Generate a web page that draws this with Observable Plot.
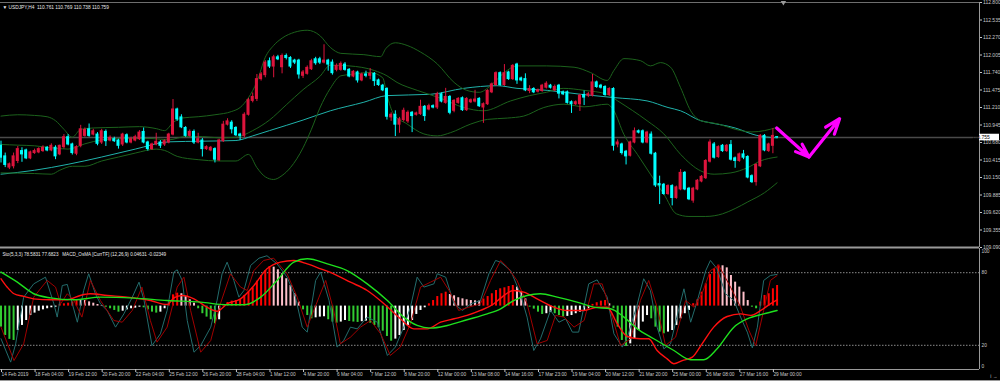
<!DOCTYPE html>
<html>
<head>
<meta charset="utf-8">
<script src="https://cdn.jsdelivr.net/npm/d3@7"></script>
<script src="https://cdn.jsdelivr.net/npm/@observablehq/plot@0.6"></script>
<style>
  html, body { margin: 0; padding: 0; background: #000; overflow: hidden; }
  #chart { width: 1000px; height: 381px; background: #000; position: relative; }
  #chart svg { display: block; overflow: visible; }
  #main { position: relative; z-index: 2; }
  #lower { border-bottom: 1px solid #9a9a9a; }
</style>
</head>
<body>
<div id="chart"></div>
<script>
// ---------- DATA (USDJPY, H4) ----------
const open = [
110.63,110.47,110.30,110.32,110.40,110.55,110.56,110.44,110.52,110.53,
110.55,110.60,110.56,110.60,110.50,110.61,110.76,110.65,110.51,110.63,
110.78,110.88,110.80,110.80,110.68,110.84,110.71,110.73,110.71,110.65,
110.79,110.68,110.71,110.73,110.84,110.68,110.58,110.65,110.68,110.65,
110.68,110.80,111.18,111.06,110.90,110.78,110.84,110.68,110.71,110.58,
110.56,110.58,110.41,110.70,110.95,110.98,110.90,110.80,110.78,111.10,
111.31,111.34,111.64,111.70,111.91,111.83,111.97,111.82,111.99,111.96,
111.92,111.92,111.69,111.72,111.79,111.94,111.94,111.89,111.92,111.89,
111.78,111.78,111.86,111.78,111.68,111.74,111.62,111.71,111.69,111.72,
111.62,111.54,111.49,111.06,111.10,110.95,111.02,111.00,111.13,111.10,
111.11,111.22,111.18,111.23,111.21,111.41,111.28,111.37,111.16,111.28,
111.35,111.17,111.29,111.30,111.34,111.21,111.26,111.44,111.55,111.73,
111.55,111.74,111.64,111.86,111.65,111.64,111.46,111.49,111.45,111.46,
111.51,111.54,111.47,111.54,111.44,111.44,111.29,111.26,111.26,111.40,
111.39,111.39,111.59,111.54,111.52,111.40,111.49,110.65,110.65,110.54,
110.48,110.68,110.85,110.85,110.68,110.80,110.51,110.05,110.04,109.90,
110.02,109.84,109.97,110.22,109.98,109.80,109.97,110.09,110.14,110.39,
110.65,110.46,110.63,110.55,110.64,110.44,110.40,110.50,110.46,110.17,
110.08,110.32,110.78,110.55,110.63,110.761];
const high = [
110.70,110.52,110.37,110.52,110.62,110.60,110.58,110.55,110.58,110.60,
110.63,110.62,110.66,110.63,110.64,110.80,110.80,110.67,110.63,110.94,
110.90,110.96,110.88,110.83,110.88,110.87,110.78,110.76,110.73,110.82,
110.81,110.76,110.79,110.86,110.90,110.70,110.67,110.82,110.71,110.72,
110.82,111.33,111.20,111.10,110.92,110.87,110.87,110.82,110.74,110.63,
110.62,110.60,110.73,111.00,111.04,111.01,110.92,110.82,111.13,111.35,
111.43,111.71,111.74,111.92,111.96,112.00,112.00,112.02,112.02,111.98,
111.94,111.94,111.77,111.84,111.94,111.97,111.97,112.16,111.94,111.93,
111.87,111.90,111.89,111.80,111.77,111.76,111.73,111.76,111.80,111.74,
111.64,111.56,111.51,111.13,111.16,111.06,111.20,111.16,111.15,111.14,
111.32,111.24,111.26,111.25,111.44,111.43,111.50,111.39,111.33,111.36,
111.37,111.36,111.34,111.47,111.36,111.28,111.48,111.58,111.75,111.75,
111.86,111.76,111.86,111.88,111.67,111.72,111.54,111.51,111.49,111.56,
111.60,111.56,111.55,111.56,111.46,111.46,111.31,111.31,111.41,111.46,
111.44,111.71,111.61,111.56,111.54,111.51,111.51,110.72,110.67,110.56,
110.70,110.90,110.87,110.87,110.85,110.84,110.53,110.17,110.06,110.04,
110.04,110.02,110.27,110.24,110.00,110.00,110.12,110.18,110.42,110.72,
110.68,110.63,110.65,110.65,110.71,110.46,110.52,110.56,110.48,110.19,
110.36,110.80,110.80,110.67,110.89,110.769];
const low = [
110.37,110.30,110.27,110.28,110.36,110.38,110.42,110.42,110.50,110.51,
110.53,110.54,110.54,110.42,110.48,110.58,110.63,110.49,110.48,110.60,
110.76,110.76,110.78,110.63,110.65,110.62,110.69,110.68,110.58,110.62,
110.66,110.66,110.69,110.71,110.66,110.55,110.56,110.63,110.59,110.62,
110.66,110.78,111.00,110.89,110.76,110.76,110.65,110.66,110.46,110.56,
110.54,110.37,110.39,110.68,110.93,110.81,110.77,110.71,110.75,111.08,
111.28,111.30,111.61,111.66,111.80,111.66,111.92,111.72,111.93,111.80,
111.86,111.64,111.65,111.70,111.77,111.85,111.86,111.87,111.76,111.70,
111.75,111.76,111.76,111.66,111.66,111.58,111.60,111.66,111.63,111.53,
111.53,111.45,111.02,111.00,110.77,110.82,110.99,110.97,110.83,111.08,
111.09,111.00,111.16,111.19,111.18,111.28,111.26,111.10,111.13,111.26,
111.15,111.15,111.27,111.28,111.21,110.97,111.24,111.42,111.53,111.53,
111.53,111.62,111.62,111.56,111.60,111.45,111.42,111.42,111.43,111.44,
111.49,111.49,111.45,111.34,111.39,111.26,111.12,111.24,111.15,111.24,
111.36,111.37,111.50,111.49,111.38,111.38,110.55,110.60,110.49,110.34,
110.46,110.66,110.81,110.66,110.66,110.49,110.00,109.74,109.88,109.88,
109.72,109.82,109.95,109.95,109.80,109.76,109.95,110.07,110.12,110.37,
110.43,110.44,110.53,110.53,110.40,110.29,110.38,110.42,110.13,110.06,
110.02,110.30,110.54,110.53,110.51,110.738];
const close = [
110.45,110.34,110.35,110.47,110.58,110.50,110.44,110.53,110.55,110.58,
110.60,110.56,110.63,110.47,110.63,110.76,110.65,110.52,110.61,110.88,
110.87,110.78,110.85,110.66,110.85,110.70,110.75,110.70,110.63,110.80,
110.68,110.73,110.76,110.83,110.68,110.58,110.65,110.69,110.63,110.70,
110.80,111.18,111.03,110.91,110.78,110.84,110.68,110.73,110.58,110.61,
110.60,110.42,110.71,110.95,111.00,110.88,110.79,110.78,111.10,111.32,
111.37,111.64,111.71,111.89,111.83,111.97,111.94,111.99,111.96,111.83,
111.89,111.71,111.74,111.81,111.91,111.88,111.89,111.92,111.86,111.73,
111.84,111.87,111.78,111.68,111.75,111.62,111.71,111.69,111.72,111.61,
111.55,111.47,111.07,111.10,110.95,111.03,111.16,111.13,111.08,111.12,
111.22,111.08,111.23,111.21,111.41,111.30,111.37,111.13,111.31,111.34,
111.17,111.34,111.32,111.33,111.23,111.26,111.46,111.56,111.73,111.55,
111.73,111.64,111.84,111.62,111.62,111.47,111.49,111.44,111.47,111.54,
111.57,111.51,111.52,111.42,111.41,111.28,111.26,111.29,111.39,111.36,
111.41,111.59,111.52,111.51,111.40,111.49,110.63,110.68,110.52,110.47,
110.68,110.85,110.83,110.68,110.83,110.51,110.03,110.03,109.90,110.02,
109.84,110.00,110.22,109.97,109.82,109.98,110.10,110.16,110.40,110.68,
110.45,110.61,110.55,110.63,110.42,110.40,110.50,110.45,110.15,110.08,
110.34,110.78,110.56,110.65,110.78,110.759];

// Bollinger bands (read at bar index) and long moving average
const bbUpper = [[0,111.08],[4,111.10],[8,111.09],[11,111.07],[13,111.01],[15,110.88],[17,110.76],[19,110.88],[22,110.90],[28,110.91],[33,110.92],[37,110.89],[39,110.86],[41,110.98],[43,111.05],[47,111.07],[51,111.10],[55,111.15],[57,111.21],[59,111.36],[61,111.60],[63,111.97],[65,112.15],[67,112.26],[70,112.35],[73,112.38],[76,112.30],[78.5,112.12],[81,112.03],[86.5,112.01],[90.5,111.98],[91.7,112.10],[94,112.19],[96.8,112.15],[100,112.05],[104,111.87],[108,111.59],[111,111.47],[114,111.44],[116.7,111.54],[120,111.74],[123,111.84],[130,111.84],[136.6,111.82],[140.5,111.74],[144.5,111.62],[146.1,111.77],[148.5,111.95],[152.4,111.92],[154.8,111.84],[157.2,111.89],[159.6,111.82],[162,111.51],[164.4,111.16],[166.8,111.01],[171,110.96],[175,110.88],[179,110.84],[182,110.86],[185,110.91]];
const bbMiddle = [[0,110.65],[4,110.64],[8,110.63],[12,110.60],[16,110.58],[20,110.66],[24,110.72],[28,110.74],[32,110.74],[36,110.74],[40,110.72],[44,110.77],[48,110.77],[52,110.75],[56,110.76],[60,110.86],[64,111.02],[68,111.25],[72,111.48],[76,111.68],[78.5,111.85],[83,111.84],[89,111.77],[92,111.69],[94.4,111.59],[99.2,111.47],[104.8,111.35],[110.3,111.21],[115,111.16],[121.5,111.31],[126,111.39],[130,111.44],[134,111.50],[139,111.47],[144.5,111.41],[147,111.31],[154,111.01],[158,110.81],[162,110.50],[166.8,110.25],[170,110.20],[174,110.22],[178,110.30],[181,110.40],[185,110.46]];
const bbLower = [[0,110.22],[8,110.21],[12,110.20],[14,110.26],[17,110.32],[20,110.32],[24,110.40],[28,110.46],[32,110.52],[37,110.58],[39,110.56],[42,110.47],[47,110.42],[52,110.40],[56,110.40],[59,110.50],[61,110.30],[63,110.16],[65,110.12],[67,110.18],[69,110.30],[72,110.60],[74,110.88],[76,111.20],[78.5,111.50],[81,111.69],[83.3,111.71],[88,111.74],[91,111.66],[92,111.40],[93.6,111.11],[96.8,110.96],[100.8,110.81],[104,110.78],[107.2,110.83],[112,110.96],[116,111.03],[120.7,111.05],[124.6,111.08],[129.4,111.21],[134.2,111.26],[139,111.22],[144.5,111.26],[146.1,111.16],[148.5,110.80],[151.7,110.50],[154.8,110.20],[158,109.90],[161,109.60],[164,109.56],[168,109.56],[172,109.60],[175,109.68],[178,109.78],[182,109.92],[185,110.07]];
const maLine = [[0,110.20],[8,110.26],[16,110.35],[24,110.46],[32,110.58],[40,110.69],[48,110.70],[56,110.71],[60,110.78],[64,110.86],[72,111.02],[78.5,111.16],[86.5,111.29],[92,111.39],[102.4,111.41],[110.3,111.50],[118.3,111.54],[123,111.50],[130.2,111.47],[138.2,111.41],[146.1,111.36],[154,111.31],[159,111.21],[162,111.16],[166.8,111.01],[169,110.98],[175,110.90],[180,110.79],[185,110.75]];

// Drawn forecast arrow (bar index, price)
const arrowPts = [[184.9,110.90],[192.6,110.46],[199.9,111.04]];

// Oscillator window: Stochastic(5,3,3) and MACD_OsMA (12,26,9), in window units 0..100
const stochMain = [[0,25.4],[2.3,6.1],[3.5,21.2],[5.4,59.8],[7.8,70.8],[10.6,76.3],[12.6,54.3],[13.4,43.3],[14.6,69.4],[15.8,70.3],[17,54.3],[18.2,39.1],[19.7,65.3],[20.9,79.1],[22.5,62.6],[23.7,54.3],[25.3,48.8],[27.3,35],[29.3,46],[31.3,59.8],[32.9,72.2],[34.1,57],[36,19.8],[38,29.5],[39.6,48.8],[41.2,80.5],[42,82.4],[43.2,73.6],[44.4,40.5],[46,14.3],[47.6,19.8],[50,35],[51.5,57],[52.7,79.1],[53.9,88.7],[55.5,73.6],[56.7,59.8],[57.9,65.3],[59.5,86],[61.5,92],[63.4,94],[65.8,87.3],[68.2,76.3],[70.2,59.8],[71.8,35],[73,30.9],[75,73.6],[76.2,80.5],[78.2,57],[80.1,18.5],[81.7,24],[83.3,35],[84.9,33.6],[87.3,43.3],[89.7,39.1],[92.1,11.6],[94,18.5],[96,35],[97.6,51.5],[99.2,76.3],[100.8,68.1],[103.2,70.8],[104,79.1],[106,76.3],[108,54.3],[110,48.8],[112,54.3],[114.3,57],[116.3,79.1],[117.9,90.1],[119.1,88.7],[121.5,81.8],[123.8,62.6],[125.4,43.3],[127,15.7],[128.6,25.4],[131,48.8],[133,39.1],[134.6,41.9],[136.2,30.9],[137.7,30.9],[140.1,70.8],[142.1,74.1],[144.5,59.8],[146.1,29.5],[148.1,18.5],[149.3,26.7],[151.7,54.3],[153.2,75],[154.8,65.3],[156.4,35],[158,17.1],[159.6,21.2],[161.2,44.7],[162.8,66.7],[164.4,39.1],[166,57],[168,81.8],[169.1,90.1],[170.7,83.2],[172.7,62.6],[174.7,57],[176.3,43.3],[177.9,30.9],[179.1,17.9],[180.3,35],[181.8,73.6],[183.4,77.7],[185,78.58]];
const stochSignal = [[0,35],[3.1,7.4],[5.4,21.2],[7.8,59.8],[11,73.6],[13,68.1],[14.2,54.3],[15.8,62.6],[17.4,57],[19.3,43.3],[21.3,73.6],[23.7,57],[26.9,40.5],[28.9,39.1],[31.3,48.8],[33.6,68.1],[35.6,40.5],[37.2,22.6],[39.6,35],[42,68.1],[43.6,76.3],[45.2,48.8],[47.6,14.3],[50,24],[52.3,54.3],[54.7,79.1],[57.1,68.1],[58.7,65.3],[60.3,81.8],[62.6,90.1],[65,92],[68.2,79.1],[70.6,59.8],[73,35],[75.8,59.8],[77.4,73.6],[79.3,48.8],[80.9,21.2],[83.3,26.7],[85.7,35],[88.1,40.5],[90.5,29.5],[92.8,11.6],[95.2,18.5],[97.6,37.8],[100,68.1],[102.4,72.2],[104.8,76.3],[106.8,65.3],[109.1,48.8],[111.5,51.5],[114.3,54.3],[116.7,73.6],[119.1,90.1],[120.7,84.6],[123,73.6],[125.4,54.3],[127.8,21.2],[130.2,24],[132.2,44.7],[134.2,43.3],[136.6,35],[139,40.5],[141.3,70.8],[143.3,70.8],[145.7,43.3],[147.7,19.8],[150.1,25.4],[152.4,57],[154.4,73.6],[156.4,51.5],[158.4,19.8],[160.8,26.7],[163.2,57],[165.2,51.5],[167.1,62.6],[169.1,81.8],[171.1,86],[173.9,68.1],[176.3,51.5],[178.3,32.2],[179.9,19.8],[181.8,48.8],[183.4,73.6],[185,77.68]];
const macdLine = [[0,75],[1.5,68],[3.1,62.6],[5.4,60.4],[7.8,58.4],[11.8,57.6],[15.8,57.6],[18.9,61.2],[21.3,62.6],[25.3,61.2],[30.1,59.8],[35.6,57],[39.6,53.7],[41.2,59.2],[43.2,61.2],[46,58.4],[49.1,51.5],[51.5,48.2],[53.9,54.3],[57.1,58.4],[60.3,69.4],[63.4,83.2],[66.6,88.7],[69.8,90.1],[73,87.3],[76.2,83.2],[79.3,79.1],[83.3,72.2],[87.3,65.3],[91.3,54.3],[95.2,41.9],[98.4,33.6],[101.6,33.6],[104.8,39.1],[108,41.9],[111.1,44.7],[114.3,48.8],[117.5,54.3],[119.1,59],[122.2,65.3],[124.6,63.9],[127.8,58.4],[131.8,51.5],[134.9,48.8],[138.9,48.8],[142.1,51.5],[144.5,51.5],[146.9,37.8],[149.3,27.3],[152.4,25.4],[154.4,25.4],[156.4,15.7],[158.8,8.8],[160.4,4.7],[162.4,7.4],[164.8,10.2],[167.1,21.2],[169.9,35],[173.1,43.8],[176.3,46],[178.7,44.7],[181.1,48.8],[183.4,54.3],[185,57.6]];
const macdSignal = [[0,80.5],[3.9,72.2],[7.8,62.6],[11.8,59.2],[17.4,57.6],[23.7,59.8],[31.7,59],[39.6,57],[47.6,55.7],[53.9,53.5],[57.9,53.5],[61.9,59.8],[65.8,73.6],[69.8,88.7],[73,91.5],[77.8,87.3],[82.5,81.8],[87.3,70.8],[92.1,57],[96,43.3],[99.2,36.4],[102.4,34.2],[106.4,36.4],[111.1,41.1],[115.9,46],[119.1,50.2],[122.2,57],[125.4,61.2],[128.6,62.6],[132.6,59.8],[137.3,55.7],[141.3,51.5],[145.3,50.2],[148.5,43.3],[151.7,33.6],[155.6,25.4],[160.4,15.7],[164.4,8],[167.5,8],[170.7,17.1],[174.7,35],[177.9,41.9],[181.8,46],[185,48.8]];
const osma = [
-17.4,-24.3,-27.5,-28.4,-20.2,-16.0,-11.9,-7.8,-5.8,-4.2,
-3.1,-2.2,-1.4,-0.9,1.3,1.9,2.4,3.5,5.2,4.9,
4.6,3.5,2.4,1.3,0.5,-0.9,-2.2,-3.6,-5.0,-4.2,
-3.1,-2.2,-1.7,-0.9,-1.4,-3.1,-5.0,-5.8,-5.0,-2.2,
3.3,9.3,10.7,10.2,7.9,5.2,2.4,-2.2,-6.3,-9.1,
-11.3,-14.6,-11.3,1.3,3.0,4.1,4.6,5.5,8.8,11.5,
15.1,20.6,25.3,29.4,32.7,32.2,30.0,26.7,22.6,17.0,
10.2,3.3,-3.1,-7.8,-10.5,-9.7,-9.1,-8.8,-11.3,-13.2,
-14.1,-13.2,-11.9,-12.7,-13.2,-13.5,-12.9,-12.4,-14.1,-16.0,
-17.9,-20.7,-25.1,-29.0,-27.3,-24.3,-20.2,-16.0,-11.9,-6.9,
-3.6,-1.4,1.9,4.6,7.9,10.2,11.5,9.6,8.5,6.9,
6.0,5.2,4.6,4.4,4.2,5.8,7.9,10.2,12.9,14.3,
15.1,16.2,17.0,15.7,11.5,6.0,-0.9,-2.5,-5.0,-6.9,
-6.3,-5.3,-6.3,-7.8,-9.1,-8.5,-7.8,-6.3,-5.0,-3.6,
-2.2,1.4,2.8,4.1,4.6,1.9,-2.2,-17.4,-28.4,-33.4,
-31.2,-27.0,-20.2,-13.2,-7.8,-10.5,-17.4,-21.5,-22.9,-21.5,
-20.2,-16.0,-10.5,-6.3,-3.6,2.0,5.2,11.5,18.4,26.1,
30.8,33.9,33.3,31.6,25.3,19.8,15.7,11.5,4.6,-0.9,
-2.2,3.3,8.8,10.2,14.3,17.0];
const osmaZero = 52.4;

// Axes / labels
const priceTicks = [112.800,112.535,112.270,112.005,111.740,111.475,111.210,110.945,110.680,110.415,110.150,109.885,109.620,109.355,109.090];
const currentPrice = 110.755;
const xTickIdx = [0,8,16,24,32,40,48,56,64,72,80,88,96,104,112,120,128,136,144,152,160,168,176,184];
const xLabels = ["14 Feb 2019","18 Feb 04:00","19 Feb 12:00","20 Feb 20:00","22 Feb 04:00","25 Feb 12:00","26 Feb 20:00","28 Feb 04:00","1 Mar 12:00","4 Mar 20:00","6 Mar 04:00","7 Mar 12:00","8 Mar 20:00","12 Mar 00:00","13 Mar 08:00","14 Mar 16:00","17 Mar 23:00","19 Mar 04:00","20 Mar 12:00","21 Mar 20:00","25 Mar 00:00","26 Mar 08:00","27 Mar 16:00","29 Mar 00:00"];
const oscLevels = [80, 20];
const title = "\u25BC USDJPY,H4  110.761 110.769 110.738 110.759";
const panelLabel = "Sto(5,3,3) 78.5831 77.6823   MACD_OsMA [CurrTF] (12,26,9) 0.04631 -0.02349";
const xDomain = [-0.12, 233.25];   // visible bar window incl. chart shift
const yDomain = [109.09, 112.80];
const shiftMarker = [186.5];

// ---------- BUILD ----------
const BULL = "#dc143c", BEAR = "#00ffff";
const bars = close.map((c, i) => ({i, o: open[i], h: high[i], l: low[i], c, col: c >= open[i] ? BULL : BEAR}));
const hist = osma.map((v, i) => {
  const p = i > 0 ? osma[i - 1] : v;
  let col;
  if (v >= 0) col = v >= p ? "#ff0000" : "#ffc0cb";
  else col = v <= p ? "#32cd32" : "#ffffff";
  return {i, v, col};
});
const arrowSegs = arrowPts.slice(1).map((p, k) => ({x1: arrowPts[k][0], y1: arrowPts[k][1], x2: p[0], y2: p[1]}));
const font = "'Liberation Sans', Arial, sans-serif";
const TXT = "#c8c8c8";
const BB = "#1c621c";
const px = d => d[0], py = d => d[1];

const priceLabel = (index, scales, values, dims) => {
  const g = d3.create("svg:g");
  const yy = scales.y(currentPrice);
  const x0 = dims.width - dims.marginRight;
  g.append("rect").attr("x", x0).attr("y", yy - 3.3).attr("width", 20).attr("height", 6.6).attr("fill", "#ffffff");
  g.append("text").attr("x", x0 + 2).attr("y", yy).attr("dy", "0.35em")
    .attr("font-size", 5).attr("fill", "#000").text(currentPrice.toFixed(3));
  return g.node();
};

const main = Plot.plot({
  width: 1000, height: 248,
  marginLeft: 0, marginRight: 21, marginTop: 2, marginBottom: 1,
  x: {domain: xDomain, axis: null},
  y: {domain: yDomain},
  color: {type: "identity"},
  style: {background: "#000", color: TXT, fontFamily: font, overflow: "visible"},
  marks: [
    Plot.ruleY([currentPrice], {stroke: "#4a4a4a", strokeWidth: 1.6}),
    Plot.line(maLine, {x: px, y: py, stroke: "#20b2aa", strokeWidth: 1, curve: "monotone-x"}),
    Plot.line(bbUpper, {x: px, y: py, stroke: BB, strokeWidth: 1, curve: "monotone-x"}),
    Plot.line(bbMiddle, {x: px, y: py, stroke: BB, strokeWidth: 1, curve: "monotone-x"}),
    Plot.line(bbLower, {x: px, y: py, stroke: BB, strokeWidth: 1, curve: "monotone-x"}),
    Plot.ruleX(bars, {x: "i", y1: "l", y2: "h", stroke: "col", strokeWidth: 1}),
    Plot.rect(bars, {x1: d => d.i - 0.36, x2: d => d.i + 0.36, y1: "o", y2: "c", fill: "col", insetTop: -0.5, insetBottom: -0.5}),
    Plot.arrow(arrowSegs, {x1: "x1", y1: "y1", x2: "x2", y2: "y2", stroke: "#ff00ff", strokeWidth: 3.2, headLength: 13, headAngle: 40}),
    Plot.ruleY([yDomain[1]], {stroke: "#6e6e6e"}),
    Plot.ruleY([yDomain[0]], {stroke: "#9a9a9a", strokeWidth: 2}),
    Plot.ruleX([xDomain[1]], {stroke: "#9a9a9a"}),
    Plot.axisY({anchor: "right", ticks: priceTicks, tickFormat: d3.format(".3f"), tickSize: 2, tickPadding: 1.5, fontSize: 5, color: TXT}),
    priceLabel,
    Plot.dot(shiftMarker, {x: d => d, frameAnchor: "top", symbol: "triangle", r: 2, fill: "#9a9a9a", rotate: 180}),
    Plot.text([title], {text: d => d, frameAnchor: "top-left", textAnchor: "start", dx: 2, dy: 3, fontSize: 4.8, fill: "#e8e8e8"})
  ]
});
main.setAttribute("id", "main");

const lower = Plot.plot({
  width: 1000, height: 132,
  marginLeft: 0, marginRight: 21, marginTop: 0, marginBottom: 11,
  x: {domain: xDomain},
  y: {domain: [0, 100], axis: null},
  color: {type: "identity"},
  style: {background: "#000", color: TXT, fontFamily: font, overflow: "visible"},
  marks: [
    Plot.ruleY(oscLevels, {stroke: "#8a8a8a", strokeDasharray: "1.5,1.5"}),
    Plot.ruleX(hist, {x: "i", y1: osmaZero, y2: d => osmaZero + d.v, stroke: "col", strokeWidth: 2}),
    Plot.line(stochMain, {x: px, y: py, stroke: "#236c6c", strokeWidth: 1}),
    Plot.line(stochSignal, {x: px, y: py, stroke: "#a00000", strokeWidth: 1}),
    Plot.line(macdLine, {x: px, y: py, stroke: "#ff1010", strokeWidth: 1.4, curve: "monotone-x"}),
    Plot.line(macdSignal, {x: px, y: py, stroke: "#1ee01e", strokeWidth: 1.4, curve: "monotone-x"}),
    Plot.ruleY([0], {stroke: "#9a9a9a"}),
    Plot.ruleX([xDomain[1]], {stroke: "#9a9a9a"}),
    Plot.axisX({ticks: xTickIdx, tickFormat: d => xLabels[xTickIdx.indexOf(d)], tickSize: 3, tickPadding: 0.5, textAnchor: "start", dx: 0.5, fontSize: 4.8, color: TXT}),
    Plot.text(oscLevels, {y: d => d, text: d => String(d), frameAnchor: "right", textAnchor: "start", dx: 2, fontSize: 4.8, fill: TXT}),
    Plot.text([100], {y: d => d, text: d => String(d), frameAnchor: "right", textAnchor: "start", dx: 2, dy: 3, fontSize: 4.8, fill: TXT}),
    Plot.text([0], {y: d => d, text: d => String(d), frameAnchor: "right", textAnchor: "start", dx: 2, dy: -3, fontSize: 4.8, fill: TXT}),
    Plot.text([panelLabel], {text: d => d, frameAnchor: "top-left", textAnchor: "start", dx: 2, dy: 4, fontSize: 4.6, fill: "#e8e8e8"})
  ]
});
lower.setAttribute("id", "lower");

const root = document.getElementById("chart");
root.appendChild(main);
root.appendChild(lower);
</script>
</body>
</html>
